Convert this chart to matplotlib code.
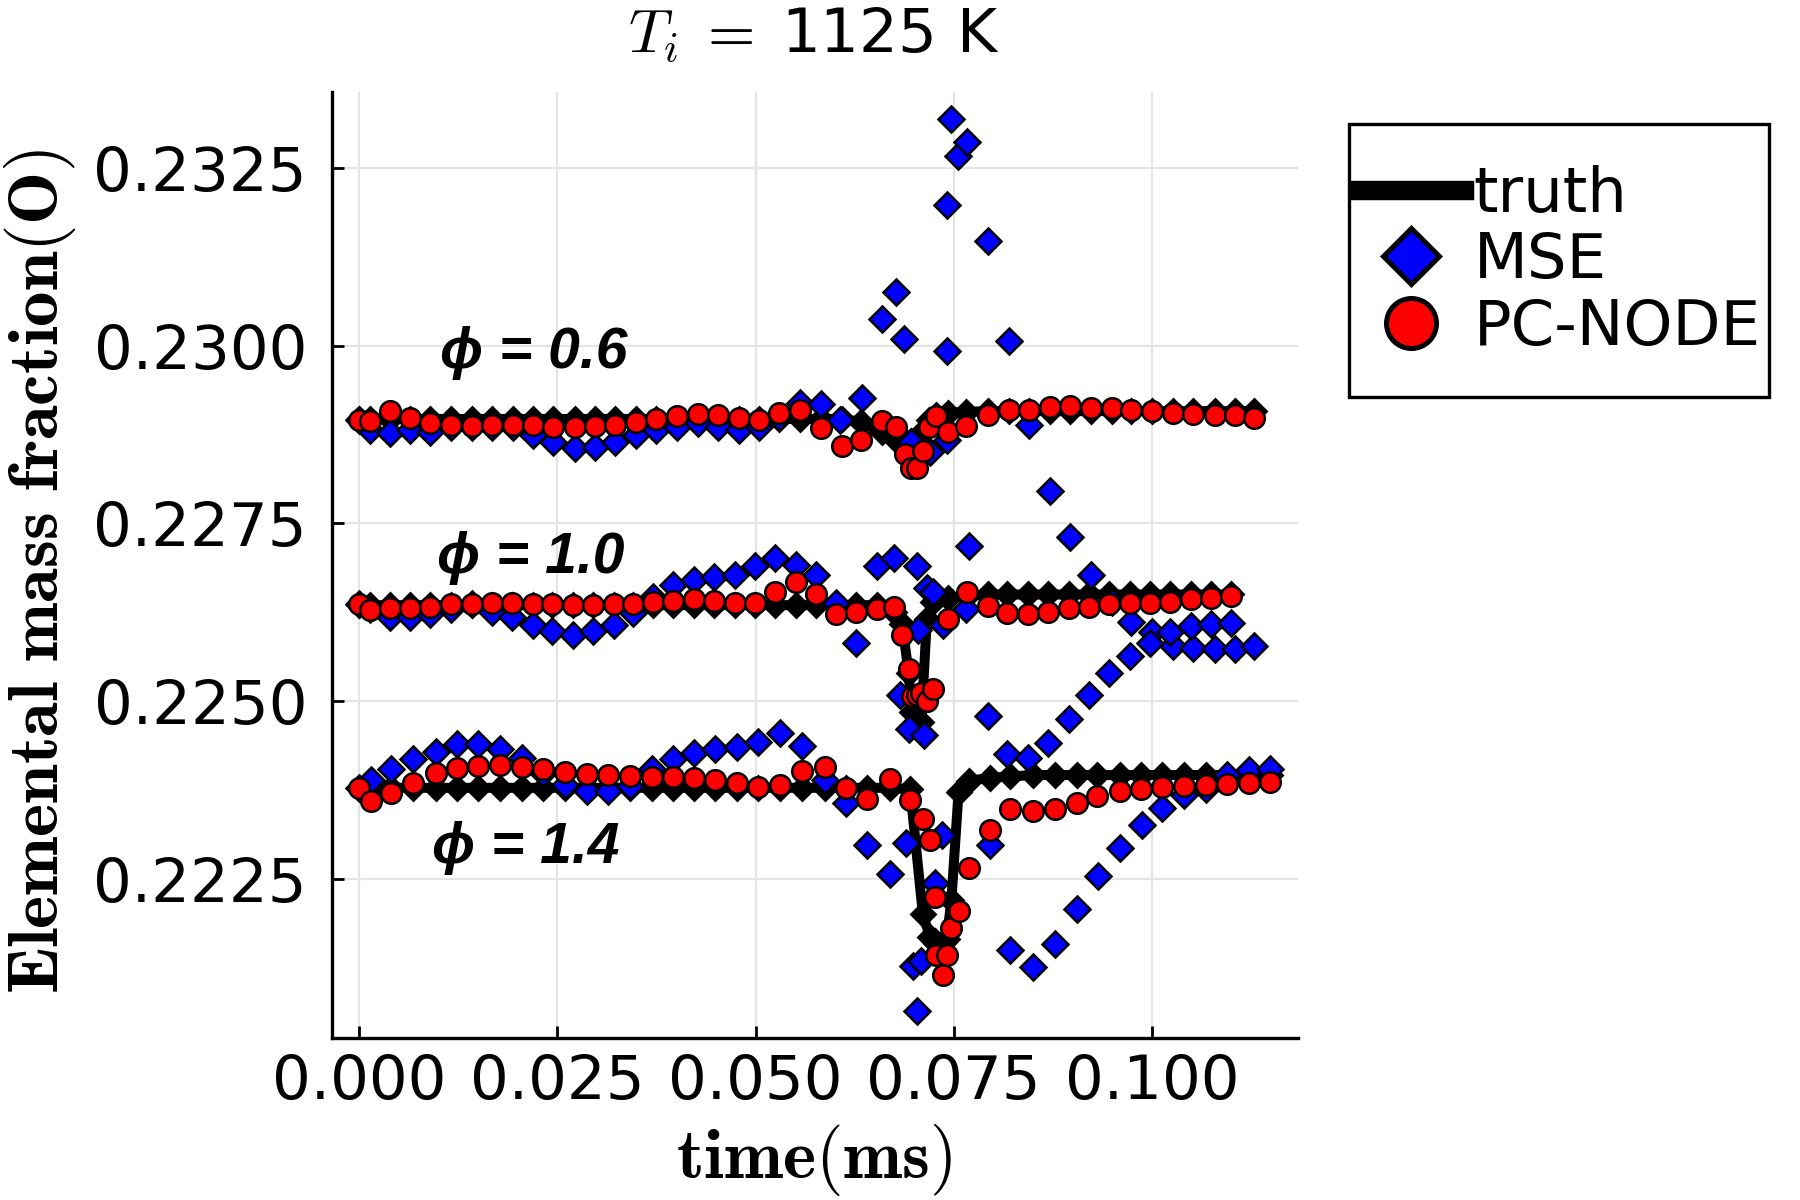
import matplotlib
matplotlib.use('Agg')
import matplotlib.pyplot as plt
from matplotlib.lines import Line2D
from matplotlib.patches import Rectangle
from matplotlib import font_manager

plt.rcParams['mathtext.fontset'] = 'cm'
plt.rcParams['font.family'] = ['DejaVu Sans']

# ---------------- data ----------------
# phi = 0.6
t06 = [0, .0014, .0039, .0064, .0090, .0116, .0143, .0168, .0194, .0220,
       .0245, .0272, .0297, .0323, .0349, .0375, .0401, .0427, .0453, .0479,
       .0504, .0530, .0556, .0583, .0609, .0633, .0659, .0677, .0688, .0696,
       .0704, .0711, .0719, .0728, .0743, .0766, .0793, .0819, .0845, .0871,
       .0897, .0923, .0949, .0974, .1000, .1026, .1052, .1079, .1105, .1129]
truth06 = [.22897, .22897, .22897, .22897, .22897, .22897, .22897, .22897, .22897, .22897,
           .22897, .22897, .22897, .22897, .22897, .22897, .22897, .22897, .22897, .22897,
           .22897, .22897, .22897, .22897, .22897, .22893, .22878, .22868, .22866, .22866,
           .22870, .22880, .22895, .22903, .22906, .22907, .22908, .22908, .22908, .22908,
           .22908, .22908, .22908, .22908, .22908, .22908, .22908, .22908, .22908, .22908]
pc06 = [.22896, .22894, .22908, .22899, .22891, .22888, .22887, .22888, .22888, .22888,
        .22886, .22886, .22887, .22889, .22892, .22897, .22901, .22904, .22903, .22898,
        .22895, .22906, .22909, .22884, .22859, .22867, .22894, .22886, .22847, .22828,
        .22828, .22852, .22885, .22901, .22879, .22887, .22903, .22909, .22910, .22914,
        .22915, .22913, .22912, .22910, .22908, .22906, .22904, .22903, .22903, .22899]
tm06 = [0, .0014, .0039, .0064, .0090, .0116, .0143, .0168, .0194, .0220,
        .0245, .0272, .0297, .0323, .0349, .0375, .0401, .0427, .0453, .0479,
        .0504, .0530, .0556, .0582, .0607, .0634, .0659, .0677, .0687, .0696,
        .0720, .0741, .0742, .0742, .0747, .0755, .0767, .0793, .0819, .0845,
        .0871, .0897, .0923, .0949, .0974, .1000, .1026, .1052, .1079, .1105, .1129]
mse06 = [.22896, .22882, .22877, .22882, .22879, .22886, .22886, .22886, .22886, .22875,
         .22865, .22856, .22858, .22865, .22875, .22882, .22886, .22891, .22886, .22882,
         .22886, .22900, .22920, .22918, .22896, .22927, .23038, .23076, .23010, .22864,
         .22850, .22867, .22993, .23198, .23319, .23267, .23287, .23148, .23007, .22889,
         .22796, .22731, .22678, .22640, .22611, .22597, .22578, .22575, .22573, .22573, .22577]

# phi = 1.0
t10 = [0, .0014, .0039, .0064, .0090, .0116, .0142, .0168, .0193, .0219,
       .0244, .0270, .0295, .0321, .0346, .0371, .0396, .0422, .0448, .0474,
       .0499, .0525, .0551, .0576, .0602, .0627, .0653, .0674, .0685, .0693,
       .0697, .0703, .0709, .0716, .0724, .0743, .0767, .0793, .0817, .0844,
       .0869, .0895, .0920, .0946, .0972, .0997, .1023, .1049, .1074, .1099]
truth10 = [.22635, .22635, .22635, .22635, .22635, .22635, .22635, .22635, .22635, .22635,
           .22635, .22635, .22635, .22635, .22635, .22635, .22635, .22635, .22635, .22635,
           .22635, .22635, .22635, .22635, .22635, .22635, .22635, .22625, .22608, .22540,
           .22485, .22462, .22470, .22615, .22640, .22645, .22648, .22650, .22650, .22650,
           .22650, .22650, .22650, .22650, .22650, .22650, .22650, .22650, .22650, .22650]
pc10 = [.22636, .22628, .22631, .22631, .22633, .22636, .22637, .22638, .22638, .22637,
        .22636, .22635, .22635, .22636, .22637, .22639, .22641, .22643, .22641, .22638,
        .22638, .22653, .22667, .22651, .22623, .22626, .22629, .22632, .22593, .22545,
        .22507, .22509, .22511, .22500, .22517, .22615, .22653, .22634, .22624, .22622,
        .22625, .22631, .22633, .22636, .22638, .22638, .22640, .22643, .22645, .22648]
tm10 = [0, .0014, .0039, .0064, .0090, .0116, .0142, .0168, .0193, .0219,
        .0244, .0270, .0295, .0321, .0346, .0371, .0396, .0422, .0448, .0474,
        .0499, .0525, .0551, .0576, .0602, .0627, .0653, .0674, .0682, .0693,
        .0704, .0705, .0712, .0716, .0724, .0736, .0766, .0769, .0793, .0817,
        .0844, .0869, .0895, .0920, .0946, .0972, .0997, .1023, .1049, .1074, .1099]
mse10 = [.22636, .22630, .22619, .22619, .22622, .22630, .22636, .22626, .22619, .22607,
         .22598, .22593, .22598, .22607, .22624, .22647, .22664, .22671, .22675, .22678,
         .22690, .22701, .22692, .22678, .22638, .22582, .22690, .22701, .22509, .22461,
         .22690, .22600, .22453, .22659, .22654, .22607, .22629, .22718, .22479, .22425,
         .22420, .22441, .22475, .22508, .22540, .22564, .22582, .22597, .22605, .22609, .22610]

# phi = 1.4
t14 = [0, .0015, .0041, .0068, .0097, .0123, .0150, .0178, .0205, .0232,
       .0260, .0287, .0314, .0342, .0369, .0396, .0422, .0449, .0477, .0503,
       .0531, .0559, .0587, .0614, .0641, .0669, .0695, .0711, .0720, .0726,
       .0728, .0737, .0741, .0747, .0756, .0769, .0796, .0821, .0850, .0878,
       .0905, .0931, .0959, .0986, .1013, .1040, .1068, .1095, .1122, .1149]
truth14 = [.22378, .22378, .22378, .22378, .22378, .22378, .22378, .22378, .22378, .22378,
           .22378, .22378, .22378, .22378, .22378, .22378, .22378, .22378, .22378, .22378,
           .22378, .22378, .22378, .22378, .22378, .22378, .22376, .22200, .22168, .22163,
           .22160, .22160, .22165, .22220, .22372, .22388, .22392, .22394, .22396, .22396,
           .22396, .22396, .22396, .22396, .22396, .22396, .22396, .22396, .22396, .22396]
pc14 = [.22378, .22360, .22371, .22385, .22399, .22406, .22409, .22410, .22407, .22404,
        .22400, .22398, .22396, .22394, .22393, .22393, .22392, .22389, .22385, .22379,
        .22382, .22401, .22407, .22378, .22362, .22390, .22361, .22334, .22305, .22224,
        .22143, .22114, .22143, .22181, .22204, .22265, .22319, .22348, .22346, .22348,
        .22357, .22367, .22373, .22377, .22379, .22381, .22382, .22384, .22385, .22386]
tm14 = [0, .0015, .0041, .0068, .0097, .0123, .0150, .0178, .0205, .0232,
        .0260, .0287, .0314, .0342, .0369, .0396, .0422, .0449, .0477, .0503,
        .0531, .0559, .0587, .0614, .0641, .0669, .0690, .0698, .0704, .0709,
        .0726, .0735, .0796, .0821, .0850, .0878, .0905, .0932, .0959, .0987,
        .1013, .1040, .1068, .1095, .1122, .1149]
mse14 = [.22378, .22389, .22404, .22418, .22429, .22439, .22439, .22432, .22420, .22399,
         .22382, .22373, .22373, .22380, .22404, .22418, .22427, .22432, .22436, .22443,
         .22455, .22437, .22389, .22357, .22297, .22257, .22301, .22128, .22064, .22134,
         .22244, .22312, .22298, .22150, .22126, .22158, .22207, .22254, .22293, .22326,
         .22350, .22368, .22377, .22396, .22403, .22405]

phi_labels = ['ϕ = 0.6', 'ϕ = 1.0', 'ϕ = 1.4']
phi_label_t = [0.0220, 0.0216, 0.0210]
phi_label_v = [0.22990, 0.22702, 0.22293]

xticks = [0.000, 0.025, 0.050, 0.075, 0.100]
xticklabels = ['0.000', '0.025', '0.050', '0.075', '0.100']
yticks = [0.2225, 0.2250, 0.2275, 0.2300, 0.2325]
yticklabels = ['0.2225', '0.2250', '0.2275', '0.2300', '0.2325']
legend_labels = ['truth', 'MSE', 'PC-NODE']

# ---------------- figure ----------------
W, H = 1800, 1200
fig = plt.figure(figsize=(9, 6), dpi=200)
ax = fig.add_axes([332 / W, 1 - 1038 / H, (1298 - 332) / W, (1038 - 92) / H])

groups = [(t06, truth06, tm06, mse06, pc06),
          (t10, truth10, tm10, mse10, pc10),
          (t14, truth14, tm14, mse14, pc14)]
for t, tr, tm, ms_, pc in groups:
    ax.plot(t, tr, color='black', lw=3.6, marker='D', ms=6.0,
            mfc='black', mec='black', zorder=2)
    ax.plot(tm, ms_, ls='none', marker='D', ms=6.4, mfc='#0000ff',
            mec='black', mew=0.9, zorder=3)
    ax.plot(t, pc, ls='none', marker='o', ms=7.4, mfc='#ff0000',
            mec='black', mew=0.9, zorder=4)

names = {f.name for f in font_manager.fontManager.ttflist}
if 'Liberation Sans Narrow' in names:
    phi_family, phi_size = ['Liberation Sans Narrow', 'DejaVu Sans'], 23.5
else:
    phi_family, phi_size = ['Liberation Sans', 'DejaVu Sans'], 20.5
for lab, tx, vy in zip(phi_labels, phi_label_t, phi_label_v):
    ax.text(tx, vy, lab, ha='center', va='center', fontsize=phi_size,
            fontweight='bold', fontstyle='italic', family=phi_family, zorder=6)

ax.set_xlim(-0.0034, 0.1184)
ax.set_ylim(0.22026, 0.23357)
ax.set_xticks(xticks)
ax.set_xticklabels(xticklabels)
ax.set_yticks(yticks)
ax.set_yticklabels(yticklabels)
ax.tick_params(direction='in', length=4.2, width=1.0, labelsize=22)
ax.tick_params(axis='x', pad=5.5)
ax.tick_params(axis='y', pad=9)
ax.grid(True, color='#e4e4e4', lw=0.8, zorder=0)
ax.set_axisbelow(True)
for s in ['top', 'right']:
    ax.spines[s].set_visible(False)
for s in ['left', 'bottom']:
    ax.spines[s].set_linewidth(1.2)

fig.text(40 / W, 1 - 571 / H, r'$\mathbf{Elemental\ mass\ fraction(O)}$',
         rotation=90, ha='center', va='center', fontsize=25.5)
fig.text(814 / W, 1 - 1160 / H, r'$\mathbf{time(ms)}$',
         ha='center', va='center', fontsize=25.5)
fig.text(814 / W, 1 - 35 / H, r'$T_i\;=\;$1125 K',
         ha='center', va='center', fontsize=22)

# legend: frame drawn as a rectangle, entries via legend without frame
fig.patches.append(Rectangle((1349 / W, 1 - 397 / H), (1769 - 1349) / W, (397 - 124) / H,
                             transform=fig.transFigure, facecolor='white',
                             edgecolor='black', lw=1.2, zorder=5))
handles = [Line2D([], [], color='black', lw=7),
           Line2D([], [], ls='none', marker='D', ms=14.5, mfc='#0000ff', mec='black', mew=1.8),
           Line2D([], [], ls='none', marker='o', ms=18, mfc='#ff0000', mec='black', mew=1.8)]
leg = fig.legend(handles, legend_labels, loc='upper left',
                 bbox_to_anchor=(1358 / W, 1 - 165 / H),
                 bbox_transform=fig.transFigure, fontsize=22.5,
                 frameon=False, borderpad=0, labelspacing=0.1, handlelength=1.7,
                 handletextpad=0.15, borderaxespad=0)
leg.set_zorder(6)

fig.savefig('out.png', dpi=200)
